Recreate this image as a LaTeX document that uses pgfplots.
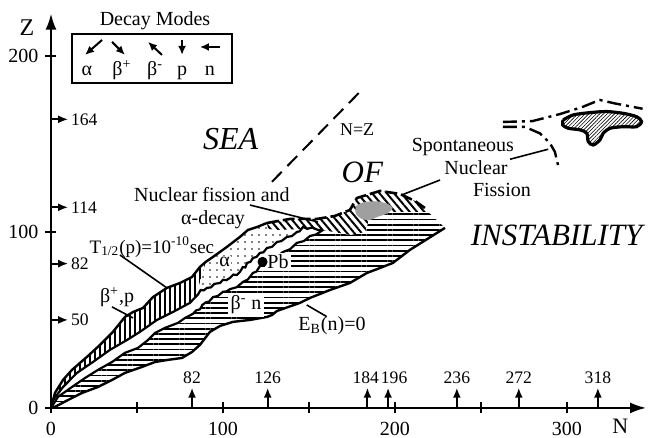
\documentclass[border=0pt]{standalone}
\usepackage{fontspec}
\setmainfont{Liberation Serif}
\usepackage{pgfplots}
\pgfplotsset{compat=1.18}
\usetikzlibrary{patterns,patterns.meta,arrows.meta}

\begin{document}
\begin{tikzpicture}
\begin{axis}[
  x=0.86pt, y=0.88pt,
  xmin=0, xmax=346, ymin=0, ymax=224,
  axis lines=left,
  axis line style={line width=1pt, -{Latex[length=8pt,width=5.5pt]}},
  xtick={0,100,200,300}, minor xtick={50,150,250},
  ytick={0,100,200},
  major tick length=5.5pt, minor tick length=5.5pt,
  tick style={line width=1pt, black},
  xticklabel style={yshift=-1pt},
  /pgf/number format/assume math mode=true,
  clip=false,
]
% page frame (reference proportions)
\coordinate (bbA) at (axis cs:-29.65,-17.05);
\coordinate (bbB) at (axis cs:348.3,231.8);

% beta+,p region (vertical hatch)
\addplot[draw=none, pattern={Lines[angle=90,distance=2.5pt,line width=0.8pt]}] coordinates {
 (0,0)(2.3,8.5)(7,15.9)(12.2,21.6)(20.9,29)(28.5,35.8)(36,43.2)(43,51.7)(47.7,54.5)
 (53.5,56.8)(59.3,63)(67.4,68.2)(75,71)(82,74.4)(86.6,80.1)(90,83)(84,63)
 (80.8,59.7)(70.9,54.5)(61.6,50)(51.7,43.2)(44.2,38.6)(34.3,33)(24.4,26.1)(15.1,19.9)(7,11.9)(1.2,4.5)(0,0)
} -- cycle;

% alpha region (dots)
\addplot[draw=none, pattern={Dots[distance=3.5pt,radius=0.45pt]}] coordinates {
 (90,83)(94.2,85.8)(102.3,91.5)(109.9,97.2)(114.5,101.1)(119.8,102.8)(125.6,105.1)(135,106)(146.5,104)
 (146.5,102.8)(144.5,100.3)(143,100)(140,97.6)(137.2,97.2)(134,94.8)(131.4,94.3)(128.5,91.5)(125.6,90.9)
 (123.5,88.4)(121.5,88.1)(119.5,85.8)(117.4,85.2)(116,83)(114,82.4)(113,79.8)(111.5,80)(109.9,77.3)
 (108,75.5)(106,75.8)(104.1,73.9)(102,72.6)(100,72.8)(98.3,71)(95,70.5)(93,68.5)(90.7,68.2)(88.8,66.8)
 (87,67)(85.5,64.5)(84,63)
} -- cycle;

% beta- region (horizontal hatch)
\addplot[draw=none, pattern={Lines[angle=0,distance=2.6pt,line width=0.9pt]}] coordinates {
 (0,0)(2.3,0.6)(9.9,4.5)(18,8.5)(27.3,11.9)(35.5,15.9)(43,19.9)(52.9,23.3)(60.5,26.1)(68,27.3)
 (76.2,28.4)(82,31.8)(86.6,35.8)(92.4,43.2)(98.3,46.6)(105.8,48.9)(115.7,50)(125.6,51.7)(128.5,52.8)
 (131.4,55.1)(144.8,59.7)(150.6,62.5)(162.2,67)(173.8,71)(183.7,76.7)(191.3,79.5)(198.8,82.4)
 (208.7,89.8)(229.1,102.3)(219.2,111.4)(185.5,111.4)(183.1,100)(173.8,98.3)(158.1,101.1)
 (154,98.5)(150.6,97.7)(147,94.8)(143,93.8)(139,90.2)(134.9,88.6)(131,85.8)(127.3,85.2)(124,81.5)
 (121.5,80.7)(119.5,77.5)(117.4,76.7)(114.5,73)(111.6,71.6)(108,68.6)(104.1,67.5)(102,66.2)(100,66)
 (97,63.6)(94.2,63)(92,60.5)(90,60)(88,58.5)(86.6,56)(84.5,55.5)(82.6,53.5)(77.9,51.1)(73.8,48.3)
 (66.3,45.5)(60.5,42.6)(56.4,38.6)(50.6,34.1)(43,31.3)(35.5,26.1)(27.3,21.6)(19.8,17)(12.2,11.9)(4.1,6.3)(0,0)
} -- cycle;

% fission + alpha strip (diagonal hatch)
\addplot[draw=none, fill=white] coordinates {
 (125.6,105.1)(139,107.4)(154.7,107.4)(165.1,109.1)(173.8,112.5)(177.9,119.3)(191.3,123.3)
 (202.9,121.6)(211.6,117.6)(217.4,113.6)(219.2,111.4)(185.5,111.4)(183.1,100)(173.8,98.3)
 (158.1,101.1)(144.8,101.7)(133.1,101.1)(126.2,101.7)
} -- cycle;
\addplot[draw=none, pattern={Lines[angle=-50,distance=2.8pt,line width=1pt]}] coordinates {
 (125.6,105.1)(139,107.4)(154.7,107.4)(165.1,109.1)(173.8,112.5)(177.9,119.3)(191.3,123.3)
 (202.9,121.6)(211.6,117.6)(217.4,113.6)(219.2,111.4)(185.5,111.4)(183.1,100)(173.8,98.3)
 (158.1,101.1)(144.8,101.7)(133.1,101.1)(126.2,101.7)
} -- cycle;

% spontaneous fission (grey)
\addplot[draw=none, fill=gray!75, smooth] coordinates {
 (177.2,114.6)(181.6,116.8)(189.4,117.4)(196.1,115.8)(198.6,113.5)(195.2,110.4)(189.4,108.4)
 (185.5,106.8)(180.6,107.4)(177.2,110.6)(177.2,114.6)
};

% outlines
\addplot[line width=1.2pt] coordinates {
 (0,0)(2.3,8.5)(7,15.9)(12.2,21.6)(20.9,29)(28.5,35.8)(36,43.2)(43,51.7)(47.7,54.5)
 (53.5,56.8)(59.3,63)(67.4,68.2)(75,71)(82,74.4)(86.6,80.1)(90,83)(94.2,85.8)(102.3,91.5)
 (109.9,97.2)(114.5,101.1)(119.8,102.8)(125.6,105.1)
};
\addplot[line width=1.3pt, dash pattern=on 6pt off 2pt] coordinates {
 (125.6,105.1)(139,107.4)(154.7,107.4)(165.1,109.1)(173.8,112.5)(177.9,119.3)(191.3,123.3)
 (202.9,121.6)(211.6,117.6)(217.4,113.6)
};
\addplot[line width=1.1pt] coordinates {
 (0,0)(1.2,4.5)(7,11.9)(15.1,19.9)(24.4,26.1)(34.3,33)(44.2,38.6)(51.7,43.2)(61.6,50)(70.9,54.5)
 (80.8,59.7)(84,63)(85.5,64.5)(87,67)(88.8,66.8)(90.7,68.2)(93,68.5)(95,70.5)(98.3,71)(100,72.8)
 (102,72.6)(104.1,73.9)(106,75.8)(108,75.5)(109.9,77.3)(111.5,80)(113,79.8)(114,82.4)(116,83)
 (117.4,85.2)(119.5,85.8)(121.5,88.1)(123.5,88.4)(125.6,90.9)(128.5,91.5)(131.4,94.3)(134,94.8)
 (137.2,97.2)(140,97.6)(143,100)(144.5,100.3)(146.5,102.8)(149,101.8)(152,102.5)(155,101.2)(158.1,101.1)
};
\addplot[line width=1.1pt] coordinates {
 (0,0)(4.1,6.3)(12.2,11.9)(19.8,17)(27.3,21.6)(35.5,26.1)(43,31.3)(50.6,34.1)(56.4,38.6)(60.5,42.6)
 (66.3,45.5)(73.8,48.3)(77.9,51.1)(82.6,53.5)(84.5,55.5)(86.6,56)(88,58.5)(90,60)(92,60.5)(94.2,63)
 (97,63.6)(100,66)(102,66.2)(104.1,67.5)(108,68.6)(111.6,71.6)(114.5,73)(117.4,76.7)(119.5,77.5)
 (121.5,80.7)(124,81.5)(127.3,85.2)(131,85.8)(134.9,88.6)(139,90.2)(143,93.8)(147,94.8)(150.6,97.7)
 (154,98.5)(158.1,101.1)
};
\addplot[line width=1.2pt] coordinates {
 (0,0)(2.3,0.6)(9.9,4.5)(18,8.5)(27.3,11.9)(35.5,15.9)(43,19.9)(52.9,23.3)(60.5,26.1)(68,27.3)
 (76.2,28.4)(82,31.8)(86.6,35.8)(92.4,43.2)(98.3,46.6)(105.8,48.9)(115.7,50)(125.6,51.7)(128.5,52.8)
 (131.4,55.1)(144.8,59.7)(150.6,62.5)(162.2,67)(173.8,71)(183.7,76.7)(191.3,79.5)(198.8,82.4)
 (208.7,89.8)(229.1,102.3)
};

% N=Z
\addplot[line width=1pt, dash pattern=on 7pt off 4pt] coordinates {(128.5,128.5)(181,181)};

% superheavy island boundaries (dash-dot)
\addplot[line width=1.2pt, dash pattern=on 7pt off 2.5pt on 1.5pt off 2.5pt] coordinates {
 (262.8,162.5)(280,163)(296,167)(309,171)(319,175)(328,173)(344,170)
};
\addplot[line width=1.2pt, dash pattern=on 7pt off 2.5pt on 1.5pt off 2.5pt] coordinates {
 (262.8,159.7)(275.6,159.7)(284.3,156)(290,150.6)(293,145.5)(294.8,138)
};
\addplot[line width=1.6pt, pattern={Lines[angle=45,distance=1.3pt,line width=0.3pt]}, smooth] coordinates {
 (297.8,163.6)(303.7,166.5)(313.4,167.8)(323.1,168.4)(332.7,167.4)(340.5,165.5)(343.4,162.7)
 (340.5,159.8)(332.7,159.8)(325,158.9)(321.1,156.1)(319.2,152.3)(315.3,149.4)(312.4,151.3)
 (311.5,156.1)(307.6,158)(300.8,158.9)(297.5,160.8)(297.8,163.6)
};

% Pb
\addplot[only marks, mark=*, mark size=2.3pt] coordinates {(123,83)};

% magic numbers
\pgfplotsinvokeforeach{82,126,236,272,318}{
  \draw[line width=1pt,-{Latex[length=5pt,width=4pt]}] (axis cs:#1,0) -- (axis cs:#1,11.5);
  \node[anchor=south, font=\fontsize{8.8}{10}\selectfont, inner sep=1pt] at (axis cs:#1,12.3) {#1};
}
\draw[line width=1pt,-{Latex[length=5pt,width=4pt]}] (axis cs:184,0) -- (axis cs:184,11.5);
\node[anchor=south, font=\fontsize{8.8}{10}\selectfont, inner sep=1pt] at (axis cs:183,12.3) {184};
\draw[line width=1pt,-{Latex[length=5pt,width=4pt]}] (axis cs:196,0) -- (axis cs:196,11.5);
\node[anchor=south, font=\fontsize{8.8}{10}\selectfont, inner sep=1pt] at (axis cs:199.5,12.3) {196};
\pgfplotsinvokeforeach{50,82,114,164}{
  \draw[line width=1pt,-{Latex[length=5pt,width=4pt]}] (axis cs:0,#1) -- (axis cs:10,#1);
  \node[anchor=west, font=\fontsize{8.8}{10}\selectfont, inner sep=1pt] at (axis cs:10.3,#1) {#1};
}

% decay modes legend
\node at (axis cs:60.5,219.9) {Decay Modes};
\draw[line width=1pt] (axis cs:12.2,184.7) rectangle (axis cs:105.2,212.5);
\draw[line width=1pt,-{Latex[length=4.5pt,width=4pt]}] (axis cs:29.7,209.1) -- (axis cs:19.8,200.6);
\draw[line width=1pt,-{Latex[length=4.5pt,width=4pt]}] (axis cs:35.5,208) -- (axis cs:43,200.6);
\draw[line width=1pt,-{Latex[length=4.5pt,width=4pt]}] (axis cs:64.5,200.6) -- (axis cs:56.4,208);
\draw[line width=1pt,-{Latex[length=4.5pt,width=4pt]}] (axis cs:76.2,209.1) -- (axis cs:76.2,200.6);
\draw[line width=1pt,-{Latex[length=4.5pt,width=4pt]}] (axis cs:98.3,205.1) -- (axis cs:86.6,205.1);
\node[anchor=base] at (axis cs:20.9,189) {α};
\node[anchor=base] at (axis cs:41.3,189) {β\textsuperscript{+}};
\node[anchor=base] at (axis cs:60.5,189) {β\textsuperscript{-}};
\node[anchor=base] at (axis cs:76.2,189) {p};
\node[anchor=base] at (axis cs:92.4,189) {n};

% axis names
\node at (axis cs:-14,216) {\large Z};
\node[font=\fontsize{11}{13}\selectfont, inner sep=0pt] at (axis cs:331,-10.3) {N};

% region names
\node[font=\fontsize{16}{18}\selectfont\itshape] at (axis cs:104.5,153) {SEA};
\node[font=\fontsize{15.5}{18}\selectfont\itshape] at (axis cs:181,134) {OF};
\node[font=\fontsize{15.5}{18}\selectfont\itshape, inner sep=0pt] at (axis cs:294,98) {INSTABILITY};
\node[font=\small] at (axis cs:178,158) {N=Z};

% annotations
\draw[line width=0.8pt] (axis cs:115.7,115.3) -- (axis cs:155.2,105.7);
\node[inner sep=1pt] at (axis cs:93.6,121) {Nuclear fission and};
\node[inner sep=1pt] at (axis cs:94.2,106.8) {α-decay};
\draw[line width=0.8pt] (axis cs:40.1,86.9) -- (axis cs:67.4,68.2);
\node[inner sep=1pt, font=\fontsize{9.5}{11}\selectfont] at (axis cs:58.7,91.5) {T\textsubscript{1/2}(p)=10\textsuperscript{-10}sec};
\draw[line width=0.8pt] (axis cs:35.5,57.4) -- (axis cs:47.7,51.1);
\node[inner sep=1pt] at (axis cs:38.4,63.1) {β\textsuperscript{+},p};
\draw[line width=0.8pt] (axis cs:148.7,58.5) -- (axis cs:160.3,51.9);
\node[inner sep=1pt] at (axis cs:163.4,46.6) {E\textsubscript{B}(n)=0};
\node[fill=white, inner sep=1pt] at (axis cs:132,83) {Pb};
\node[fill=white, inner sep=0.5pt] at (axis cs:101,83) {α};
\node[fill=white, inner sep=1.5pt] at (axis cs:113.4,58.5) {β\textsuperscript{-} n};
\draw[line width=0.8pt] (axis cs:266.9,141.3) -- (axis cs:289.1,147);
\draw[line width=0.8pt] (axis cs:226.2,129.5) -- (axis cs:203.9,121);
\node at (axis cs:239.5,148.3) {Spontaneous};
\node at (axis cs:247.1,136.4) {Nuclear};
\node at (axis cs:262.2,123.9) {Fission};
\end{axis}
\pgfresetboundingbox
\path (bbA) rectangle (bbB);
\end{tikzpicture}
\end{document}
